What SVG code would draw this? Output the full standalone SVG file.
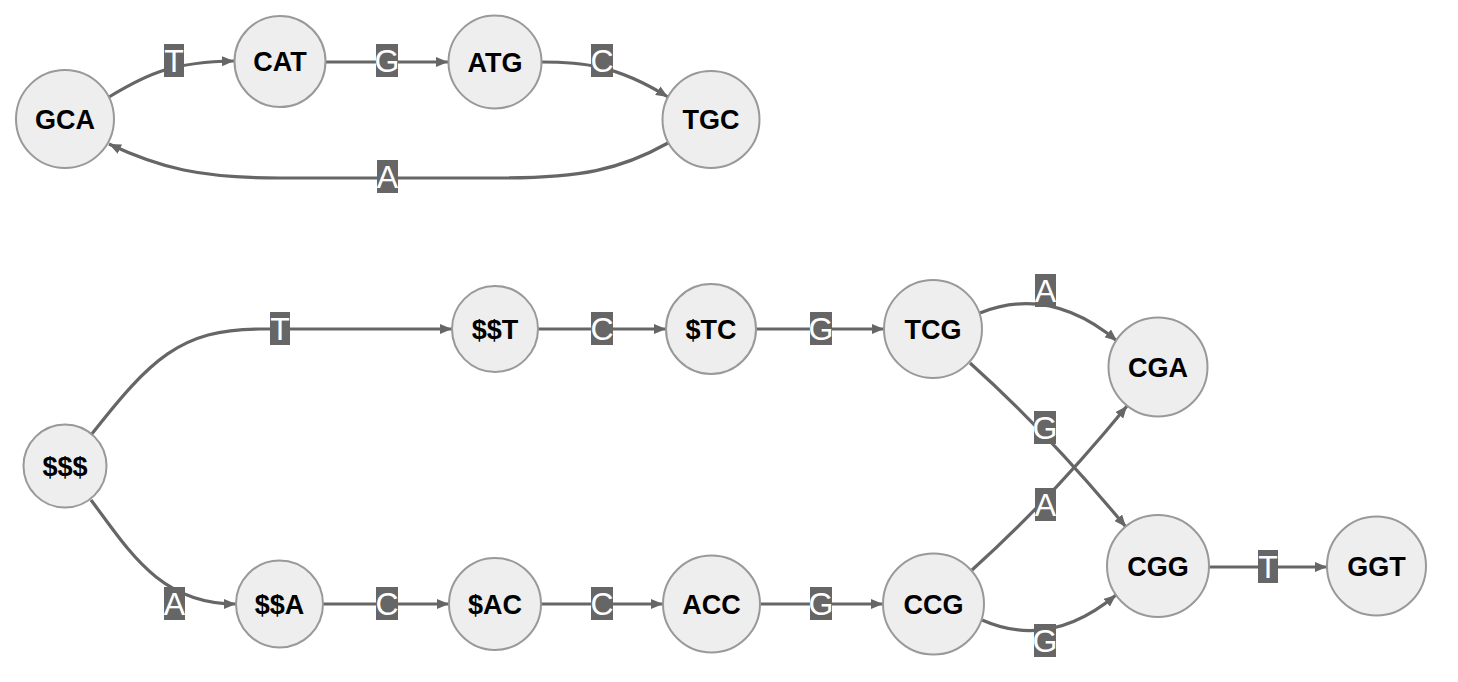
<svg xmlns="http://www.w3.org/2000/svg" width="1458" height="682" viewBox="0 0 1458 682">
<style>
.n circle{fill:#eeeeee;stroke:#999999;stroke-width:2}
.n text{font-family:"Liberation Sans",Arial,sans-serif;font-weight:bold;font-size:27px;fill:#000;text-anchor:middle}
.e path{fill:none;stroke:#666666;stroke-width:3.2;marker-end:url(#ah)}
.l rect{fill:#666666}
.l text{font-family:"Liberation Sans",Arial,sans-serif;font-size:32px;fill:#fff;text-anchor:middle}
</style>
<defs>
<marker id="ah" markerUnits="userSpaceOnUse" markerWidth="13" markerHeight="11" refX="12" refY="5" orient="auto">
<path d="M0,0 L12,5 L0,10 z" fill="#666666"/>
</marker>
</defs>
<rect width="1458" height="682" fill="#fff"/>
<g class="e" id="connectors">
<path d="M109,97 C150,72 175,62 234,61"/>
<path d="M325,62 L448,62"/>
<path d="M541,62 C580,62 615,64 668,97"/>
<path d="M668,143 C620,170 580,178 500,178 L280,178 C200,178 160,168 109,144"/>
<path d="M91,435 C150,360 180,329 260,329 L452,329"/>
<path d="M91,500 C130,552 160,604 236,604"/>
<path d="M538,329 L666,329"/>
<path d="M756,329 L884,329"/>
<path d="M980,313 Q1050,285 1117,341"/>
<path d="M970,363 Q1045,430 1126,527"/>
<path d="M972,570 Q1050,500 1127,406"/>
<path d="M982,620 Q1050,650 1116,595"/>
<path d="M1209,567 L1327,567"/>
<path d="M323,604 L449,604"/>
<path d="M541,604 L663,604"/>
<path d="M760,604 L883,604"/>
</g>
<g class="l" id="edge-labels">
<g><rect x="164" y="44" width="20" height="33"/><text x="174" y="72">T</text></g>
<g><rect x="376" y="44" width="22" height="33"/><text x="387" y="72">G</text></g>
<g><rect x="591" y="44" width="22" height="33"/><text x="602" y="72">C</text></g>
<g><rect x="377" y="160" width="21" height="33"/><text x="387.5" y="188">A</text></g>
<g><rect x="270" y="312" width="20" height="33"/><text x="280" y="340">T</text></g>
<g><rect x="591" y="312" width="22" height="33"/><text x="602" y="340">C</text></g>
<g><rect x="810" y="312" width="22" height="33"/><text x="821" y="340">G</text></g>
<g><rect x="1035" y="274" width="21" height="33"/><text x="1045.5" y="302">A</text></g>
<g><rect x="1034" y="411" width="22" height="33"/><text x="1045" y="439">G</text></g>
<g><rect x="1035" y="488" width="21" height="33"/><text x="1045.5" y="516">A</text></g>
<g><rect x="1258" y="550" width="20" height="33"/><text x="1268" y="578">T</text></g>
<g><rect x="1034" y="624" width="22" height="33"/><text x="1045" y="652">G</text></g>
<g><rect x="164" y="587" width="21" height="33"/><text x="174.5" y="615">A</text></g>
<g><rect x="376" y="587" width="22" height="33"/><text x="387" y="615">C</text></g>
<g><rect x="591" y="587" width="22" height="33"/><text x="602" y="615">C</text></g>
<g><rect x="810" y="587" width="22" height="33"/><text x="821" y="615">G</text></g>
</g>
<g class="n" id="GCA"><circle cx="65" cy="119" r="49"/><text x="65" y="128.5">GCA</text></g>
<g class="n" id="CAT"><circle cx="280" cy="61.5" r="45.5"/><text x="280" y="71">CAT</text></g>
<g class="n" id="ATG"><circle cx="495" cy="62" r="46.5"/><text x="495" y="71.5">ATG</text></g>
<g class="n" id="TGC"><circle cx="711" cy="119.5" r="48.5"/><text x="711" y="129">TGC</text></g>
<g class="n" id="S3"><circle cx="65" cy="466" r="41.5"/><text x="65" y="475.5">$$$</text></g>
<g class="n" id="SST"><circle cx="495" cy="329" r="43"/><text x="495" y="338.5">$$T</text></g>
<g class="n" id="STC"><circle cx="711" cy="329" r="45"/><text x="711" y="338.5">$TC</text></g>
<g class="n" id="TCG"><circle cx="933" cy="329" r="49"/><text x="933" y="338.5">TCG</text></g>
<g class="n" id="CGA"><circle cx="1158" cy="367" r="49.5"/><text x="1158" y="376.5">CGA</text></g>
<g class="n" id="CGG"><circle cx="1158" cy="566" r="51"/><text x="1158" y="575.5">CGG</text></g>
<g class="n" id="GGT"><circle cx="1376.5" cy="566" r="49.5"/><text x="1376.5" y="575.5">GGT</text></g>
<g class="n" id="SSA"><circle cx="279.5" cy="604" r="43.5"/><text x="279.5" y="613.5">$$A</text></g>
<g class="n" id="SAC"><circle cx="495" cy="604" r="46"/><text x="495" y="613.5">$AC</text></g>
<g class="n" id="ACC"><circle cx="711.5" cy="604" r="48.5"/><text x="711.5" y="613.5">ACC</text></g>
<g class="n" id="CCG"><circle cx="933.5" cy="604" r="50.5"/><text x="933.5" y="613.5">CCG</text></g>
</svg>
